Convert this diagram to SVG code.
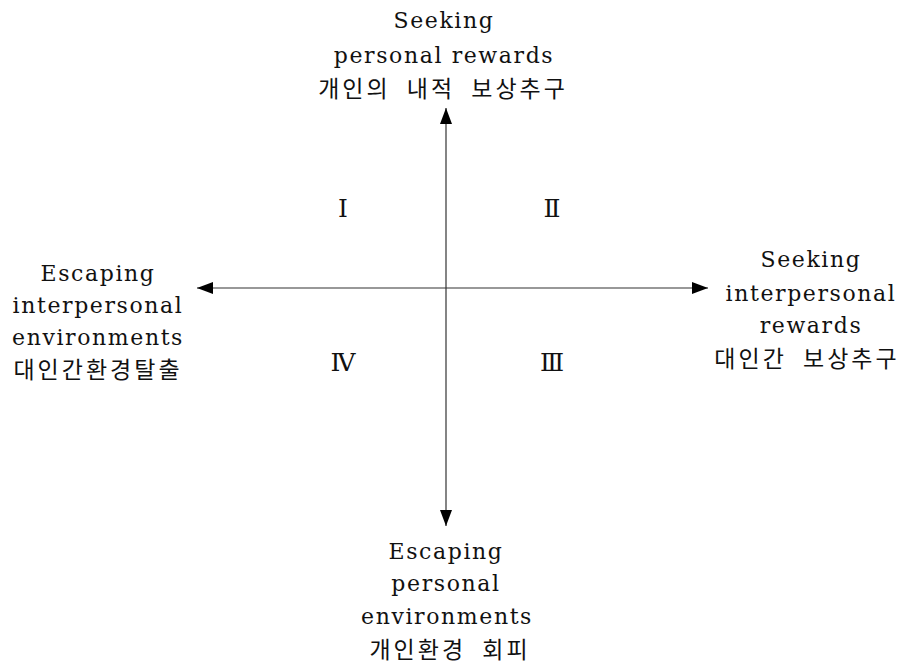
<svg xmlns="http://www.w3.org/2000/svg" width="915" height="666" viewBox="0 0 915 666">
<style>
.t{font-family:"DejaVu Serif","Liberation Serif","Noto Sans CJK KR",serif;font-size:22px;fill:#111;text-anchor:middle;letter-spacing:1.6px}
.k{font-family:"Noto Sans CJK KR",sans-serif;font-size:23px;fill:#111;text-anchor:middle;letter-spacing:3px;word-spacing:8px}
.n{font-family:"DejaVu Serif","Liberation Serif",serif;font-size:25px;fill:#111;text-anchor:middle}
.ax{stroke:#333;stroke-width:1.2;fill:none}
</style>
<defs>
<marker id="ah" viewBox="0 0 16 12" refX="16" refY="6" markerWidth="16" markerHeight="12" markerUnits="userSpaceOnUse" orient="auto">
<path d="M0,0 L16,6 L0,12 Z" fill="#000"/>
</marker>
</defs>
<rect width="915" height="666" fill="#fff"/>
<g id="connectors">
<line class="ax" x1="446" y1="288" x2="446" y2="108" marker-end="url(#ah)"/>
<line class="ax" x1="446" y1="288" x2="446" y2="526" marker-end="url(#ah)"/>
<line class="ax" x1="446" y1="288" x2="197" y2="288" marker-end="url(#ah)"/>
<line class="ax" x1="446" y1="288" x2="708" y2="288" marker-end="url(#ah)"/>
</g>
<g id="top">
<text class="t" x="444" y="28">Seeking</text>
<text class="t" x="444" y="63">personal rewards</text>
<text class="k" x="443" y="97">개인의 내적 보상추구</text>
</g>
<g id="left">
<text class="t" x="98" y="281">Escaping</text>
<text class="t" x="98" y="313">interpersonal</text>
<text class="t" x="98" y="345">environments</text>
<text class="k" x="98" y="378">대인간환경탈출</text>
</g>
<g id="right">
<text class="t" x="811" y="267">Seeking</text>
<text class="t" x="811" y="301">interpersonal</text>
<text class="t" x="811" y="333">rewards</text>
<text class="k" x="807" y="367">대인간 보상추구</text>
</g>
<g id="bottom">
<text class="t" x="446" y="559">Escaping</text>
<text class="t" x="446" y="591">personal</text>
<text class="t" x="447" y="624">environments</text>
<text class="k" x="450" y="658">개인환경 회피</text>
</g>
<g id="quadrants">
<text class="n" x="343" y="217">Ⅰ</text>
<text class="n" x="552" y="217">Ⅱ</text>
<text class="n" x="552" y="371">Ⅲ</text>
<text class="n" x="343" y="371">Ⅳ</text>
</g>
</svg>
